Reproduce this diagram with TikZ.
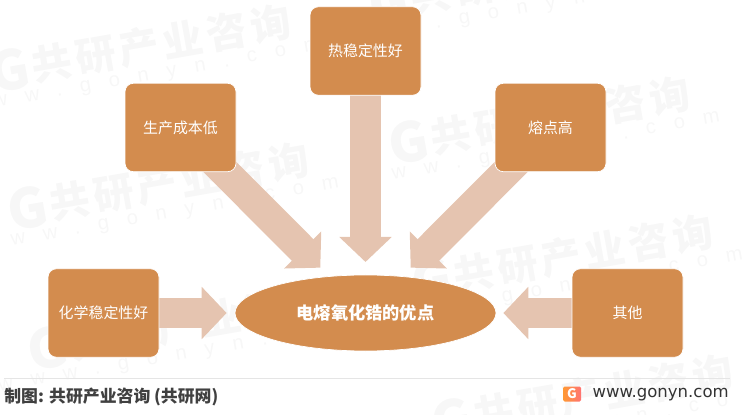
\documentclass[tikz,border=0pt]{standalone}
\usepackage{fontspec}
\setmainfont{Noto Sans CJK SC}
\newfontfamily\markfont[LetterSpace=10]{Noto Sans CJK SC}
\newfontfamily\sitefont[LetterSpace=90]{Liberation Sans}
\newfontfamily\urlfont{DejaVu Sans}
\usetikzlibrary{arrows.meta,shapes.geometric,backgrounds}
\definecolor{boxorange}{HTML}{D38C4E}
\definecolor{arrowtan}{HTML}{E5C4B0}
\definecolor{markgray}{HTML}{F7F7F7}
\tikzstyle{fact}=[draw=white,fill=boxorange,rounded corners=.17cm,minimum width=2.22cm,minimum height=1.77cm,inner sep=0,text=white,font=\fontsize{8.5}{10}\selectfont]
\tikzstyle{hub}=[ellipse,draw=white,fill=boxorange,minimum width=5.22cm,minimum height=1.52cm,inner sep=0,text=white,font=\fontsize{9.8}{12}\selectfont\bfseries]
\tikzstyle{block}=[arrowtan,line width=.61cm,-{Triangle[width=1.02cm,length=.5cm]}]
\tikzstyle{markhead}=[text=markgray,font=\fontsize{23}{26}\selectfont\markfont\bfseries,inner sep=0]
\tikzstyle{marksite}=[text=markgray,font=\fontsize{11.5}{14}\selectfont\sitefont,inner sep=0]
\begin{document}
\begin{tikzpicture}
    \useasboundingbox (0,0) rectangle (14.86,8.28);
    \node[fact] (stable) at (7.31,7.26) {热稳定性好};
    \node[fact] (cost) at (3.61,5.73) {生产成本低};
    \node[fact] (melt) at (11.01,5.73) {熔点高};
    \node[fact] (chem) at (2.07,2.02) {化学稳定性好};
    \node[fact] (other) at (12.55,2.02) {其他};
    \node[hub] (main) at (7.31,2.02) {电熔氧化锆的优点};
    \begin{scope}[on background layer]
      \clip (0,0) rectangle (14.86,8.28);
      \foreach \x/\y [count=\i] in {.2/6.88,.56/4.12,8.18/5.44,8.64/2.68,.96/1.32,9.04/-.12,7.78/8.24}{
        \begin{scope}[shift={(\x,\y)},rotate=10,transform shape]
          \node[markhead] (logo\i) at (0,0) {\fontsize{31}{33}\selectfont G};
          \node[markhead] (name\i) at (3.07,0) {共研产业咨询};
          \node[marksite] (site\i) at (2.55,-.62) {www.gonyn.com};
        \end{scope}
      }
      \draw[block,shorten >=1.02cm] (stable.center) -- (main.center);
      \draw[block,shorten >=1.28cm] (cost.center) -- (main.center);
      \draw[block,shorten >=1.28cm] (melt.center) -- (main.center);
      \draw[block,shorten >=.16cm] (chem.east) -- (main.west);
      \draw[block,shorten >=.14cm] (other.west) -- (main.east);
    \end{scope}
    % footer
    \coordinate (ruleL) at (.08,.72);
    \coordinate (ruleR) at (14.6,.72);
    \draw[gray!20] (ruleL) -- (ruleR);
    \node[anchor=west,inner sep=0,text=black!75,font=\fontsize{9.6}{11}\selectfont\bfseries] (source) at (.08,.34) {制图: 共研产业咨询 (共研网)};
    \node[anchor=east,inner sep=0,text=black!80,font=\fontsize{9.4}{11}\selectfont\urlfont] (url) at (14.58,.38) {www.gonyn.com};
    \node[left color=orange!80,right color=red!55,minimum width=.36cm,minimum height=.3cm,inner sep=0,rounded corners=.03cm,text=white,font=\fontsize{7.5}{8}\selectfont\bfseries] (logo) at (11.44,.4) {G};
  \end{tikzpicture}
\end{document}
